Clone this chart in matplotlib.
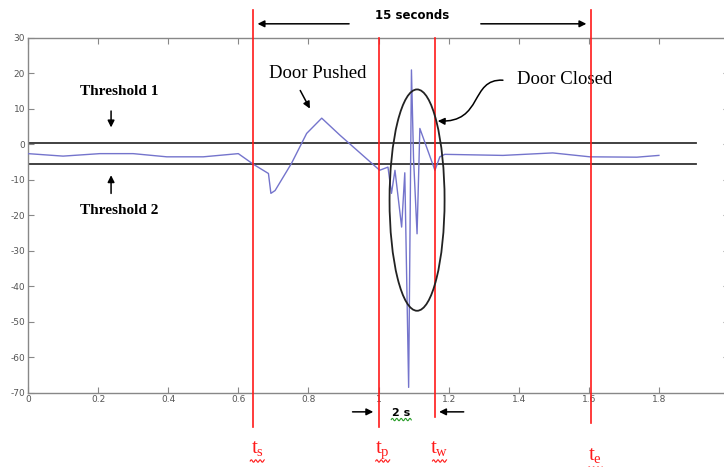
import numpy as np
import matplotlib
matplotlib.use("Agg")
import matplotlib.pyplot as plt
from matplotlib.patches import Ellipse, FancyArrowPatch
from matplotlib.path import Path
from matplotlib.transforms import IdentityTransform

plt.rcParams['mathtext.fontset'] = 'custom'
plt.rcParams['mathtext.rm'] = 'Liberation Serif'
plt.rcParams['mathtext.it'] = 'Liberation Serif'
plt.rcParams['axes.unicode_minus'] = False

# ---- data ----
time = [0.0, 0.1, 0.205, 0.3, 0.396, 0.5, 0.6, 0.643, 0.686, 0.693, 0.705,
        0.752, 0.795, 0.838, 0.89, 1.0, 1.003, 1.027, 1.037, 1.047, 1.066,
        1.075, 1.086, 1.094, 1.1, 1.11, 1.118, 1.161, 1.175, 1.189, 1.355,
        1.497, 1.603, 1.737, 1.8]
signal = [-2.6, -3.3, -2.6, -2.6, -3.5, -3.5, -2.6, -5.6, -8.2, -13.8, -13.0,
          -5.3, 3.1, 7.4, 2.6, -7.0, -7.3, -6.4, -13.8, -7.3, -23.3,
          -8.0, -68.5, 21.0, -4.0, -25.2, 4.5, -7.3, -3.5, -2.8, -3.1,
          -2.4, -3.5, -3.6, -3.1]
threshold_1 = 0.5
threshold_2 = -5.6
threshold_span = [0.0, 1.905]
t_s, t_p, t_w, t_e = 0.642, 1.0, 1.162, 1.606
xticks = [0, 0.2, 0.4, 0.6, 0.8, 1.0, 1.2, 1.4, 1.6, 1.8]
xticklabels = ['0', '0.2', '0.4', '0.6', '0.8', '1', '1.2', '1.4', '1.6', '1.8']
yticks = [30, 20, 10, 0, -10, -20, -30, -40, -50, -60, -70]

fig = plt.figure(figsize=(7.24, 4.67), dpi=100)
ax = fig.add_axes([28/724, 1-392.7/467, 701/724, (392.7-38)/467])
ax.set_xlim(0, 2.0)
ax.set_ylim(-70, 30)

ax.plot(time, signal, color='#7474cc', lw=1.0, zorder=3)
ax.plot(threshold_span, [threshold_1]*2, color='#333333', lw=1.3, zorder=2)
ax.plot(threshold_span, [threshold_2]*2, color='#333333', lw=1.3, zorder=2)

ax.set_xticks(xticks)
ax.set_xticklabels(xticklabels)
ax.set_yticks(yticks)
ax.tick_params(direction='in', top=True, right=True, length=4, width=0.8,
               color='#888888', labelcolor='#555555', labelsize=6.5, pad=2)
for s in ax.spines.values():
    s.set_color('#888888')
    s.set_linewidth(1.0)

red = '#ff1a1a'
# event lines
ax.plot([t_s, t_s], [37.9, -79.6], color=red, lw=1.2, clip_on=False, zorder=4)
ax.plot([t_p, t_p], [30, -79.6], color=red, lw=1.2, clip_on=False, zorder=4)
ax.plot([t_w, t_w], [30, -76.8], color=red, lw=1.2, clip_on=False, zorder=4)
ax.plot([t_e, t_e], [37.9, -78.6], color=red, lw=1.2, clip_on=False, zorder=4)

# ellipse
ax.add_patch(Ellipse((1.11, -15.7), 0.157, 62.4, fill=False, edgecolor='#222222',
                     lw=1.3, zorder=5))

ak = dict(arrowstyle='-|>', color='black', lw=1.1, mutation_scale=10)
# 15 seconds
ax.annotate('', xy=(t_s + 0.005, 34.0), xytext=(0.924, 34.0), arrowprops=ak,
            annotation_clip=False)
ax.annotate('', xy=(t_e - 0.005, 34.0), xytext=(1.284, 34.0), arrowprops=ak,
            annotation_clip=False)
ax.text(1.096, 36.3, '15 seconds', ha='center', va='center', fontsize=8.5,
        fontweight='bold', family='DejaVu Sans', clip_on=False)

# thresholds labels
ax.text(0.26, 14.8, 'Threshold 1', ha='center', va='center', fontsize=11,
        fontweight='bold', family='Liberation Serif')
ax.text(0.26, -18.6, 'Threshold 2', ha='center', va='center', fontsize=11,
        fontweight='bold', family='Liberation Serif')
ax.annotate('', xy=(0.237, 4.0), xytext=(0.237, 10.2), arrowprops=ak)
ax.annotate('', xy=(0.237, -7.9), xytext=(0.237, -14.6), arrowprops=ak)

# Door pushed
ax.text(0.826, 20.1, 'Door Pushed', ha='center', va='center', fontsize=13.5,
        family='Liberation Serif')
ax.annotate('', xy=(0.808, 9.4), xytext=(0.773, 15.9), arrowprops=ak)

# Door closed
ax.text(1.531, 18.4, 'Door Closed', ha='center', va='center', fontsize=13.5,
        family='Liberation Serif')
p0 = (1.355, 18.1)
p3 = (1.169, 6.6)
path = Path([p0, (1.26, 18.6), (1.30, 6.0), p3],
            [Path.MOVETO, Path.CURVE4, Path.CURVE4, Path.CURVE4])
arr = FancyArrowPatch(path=path, arrowstyle='-|>', color='black', lw=1.1,
                      mutation_scale=10, transform=ax.transData, zorder=6)
ax.add_patch(arr)

# 2 s
ax.annotate('', xy=(0.993, -75.4), xytext=(0.918, -75.4), arrowprops=ak,
            annotation_clip=False)
ax.annotate('', xy=(1.165, -75.4), xytext=(1.251, -75.4), arrowprops=ak,
            annotation_clip=False)
ax.text(1.065, -75.6, '2 s', ha='center', va='center', fontsize=8,
        fontweight='bold', family='DejaVu Sans', clip_on=False)


def wavy(x0, x1, y, color):
    xs = np.linspace(x0, x1, 40)
    ys = y + 1.2 * np.sin((xs - x0) / 2.2 * np.pi)
    fig.add_artist(plt.Line2D(xs, ys, transform=IdentityTransform(), color=color,
                              lw=0.8))

fig.canvas.draw()
H = fig.bbox.height
# wavy underline under "2 s"
cx, cy = ax.transData.transform((1.065, -75.6))
wavy(cx - 10, cx + 10, cy - 7, '#2a9d2a')

# t labels
for xv, lab, yv in [(t_s, r'$\mathrm{t_s}$', -87.0), (t_p, r'$\mathrm{t_p}$', -87.0),
                    (t_w, r'$\mathrm{t_w}$', -87.0), (t_e, r'$\mathrm{t_e}$', -89.0)]:
    ax.text(xv + 0.012, yv, lab, ha='center', va='baseline', fontsize=15,
            color=red, clip_on=False)
    px, py = ax.transData.transform((xv + 0.012, yv))
    wavy(px - 7, px + 7, py - 8, red)

fig.savefig('out.png', dpi=100)
